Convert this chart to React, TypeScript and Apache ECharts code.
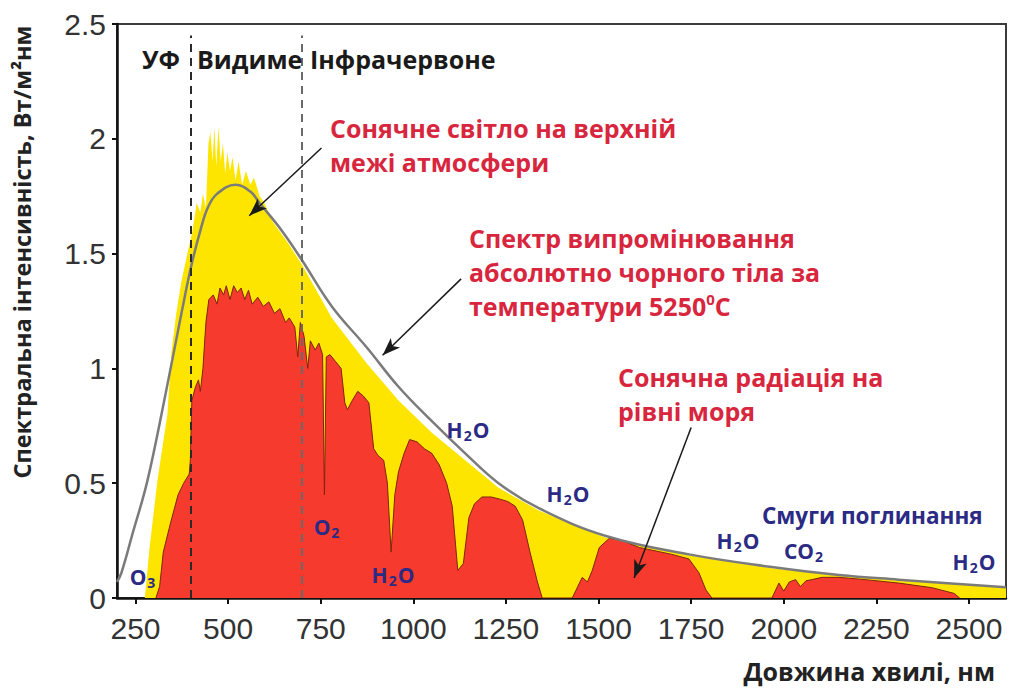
import React, { useEffect, useRef } from 'react';
import * as echarts from 'echarts';

// ---------- data (wavelength nm, spectral intensity W/m²nm) ----------
const xTicks = [250, 500, 750, 1000, 1250, 1500, 1750, 2000, 2250, 2500];

const blackbody: [number, number][] = [
  [200, 0.07], [212, 0.11], [242, 0.28], [282, 0.51], [330, 0.88], [374, 1.24],
  [401, 1.45], [425, 1.6], [445, 1.7], [470, 1.76], [520, 1.8], [560, 1.77],
  [585, 1.72], [645, 1.6], [700, 1.47], [780, 1.27], [875, 1.09], [960, 0.92],
  [1050, 0.77], [1140, 0.63], [1230, 0.5], [1340, 0.39], [1520, 0.27],
  [1744, 0.19], [1968, 0.135], [2149, 0.1], [2310, 0.08], [2600, 0.047],
];

const topOfAtmosphere: [number, number][] = [
  [275, 0], [288, 0.22], [309, 0.51], [336, 0.8], [347, 1.07], [360, 1.24],
  [374, 1.38], [390, 1.5], [404, 1.6], [415, 1.72], [425, 1.68], [432, 1.76],
  [440, 1.7], [447, 1.98], [452, 2.03], [458, 1.9], [463, 2.05], [468, 1.88],
  [474, 2.05], [480, 1.9], [486, 1.98], [492, 1.85], [498, 1.94], [505, 1.86],
  [512, 1.92], [520, 1.82], [528, 1.9], [538, 1.8], [548, 1.86], [560, 1.8],
  [570, 1.83], [585, 1.75], [598, 1.72], [620, 1.64], [660, 1.55], [700, 1.45],
  [780, 1.22], [875, 1.02], [960, 0.86], [1050, 0.72], [1140, 0.6], [1230, 0.48],
  [1340, 0.38], [1520, 0.262], [1744, 0.185], [1968, 0.13], [2149, 0.097],
  [2310, 0.077], [2500, 0.058], [2600, 0.045],
];

const seaLevel: [number, number][] = [
  [305, 0], [315, 0.05], [325, 0.2], [345, 0.33], [365, 0.45], [380, 0.5],
  [395, 0.54], [398, 0.6], [402, 0.86], [412, 0.92], [420, 0.95], [425, 0.9],
  [432, 1.0], [440, 1.2], [448, 1.3], [460, 1.32], [470, 1.28], [478, 1.35],
  [488, 1.32], [495, 1.36], [505, 1.3], [515, 1.36], [525, 1.33], [535, 1.35],
  [545, 1.3], [555, 1.34], [565, 1.28], [580, 1.31], [595, 1.27], [610, 1.29],
  [625, 1.24], [640, 1.26], [655, 1.2], [665, 1.22], [680, 1.18], [688, 1.05],
  [695, 1.2], [705, 1.14], [715, 1.0], [722, 1.12], [735, 1.08], [745, 1.11],
  [755, 1.06], [760, 0.45], [765, 1.05], [775, 1.06], [790, 1.03], [805, 1.0],
  [815, 0.85], [822, 0.82], [835, 0.86], [850, 0.9], [865, 0.88], [880, 0.85],
  [893, 0.65], [905, 0.62], [920, 0.6], [930, 0.5], [940, 0.2], [950, 0.45],
  [960, 0.55], [975, 0.63], [990, 0.69], [1010, 0.68], [1030, 0.65], [1050, 0.63],
  [1070, 0.58], [1090, 0.5], [1105, 0.4], [1120, 0.12], [1135, 0.15], [1150, 0.35],
  [1165, 0.41], [1185, 0.44], [1210, 0.44], [1235, 0.43], [1255, 0.42], [1275, 0.4],
  [1295, 0.34], [1315, 0.2], [1335, 0.07], [1348, 0], [1429, 0], [1456, 0.09],
  [1470, 0.07], [1483, 0.12], [1502, 0.22], [1529, 0.26], [1564, 0.25], [1610, 0.22],
  [1698, 0.19], [1744, 0.17], [1771, 0.11], [1790, 0.035], [1806, 0], [1968, 0],
  [1987, 0.065], [2000, 0.03], [2015, 0.07], [2032, 0.08], [2045, 0.05], [2060, 0.075],
  [2076, 0.08], [2103, 0.09], [2149, 0.09], [2220, 0.08], [2310, 0.065], [2400, 0.045],
  [2460, 0.02], [2475, 0],
];

const regionBounds = [400, 700];
const regionTop = 2.45;

// arrows in data coordinates: [fromX, fromY, toX, toY]
const arrows: [number, number, number, number][] = [
  [752, 1.96, 557, 1.665],
  [1129, 1.39, 917, 1.057],
  [1750, 0.743, 1596, 0.087],
];

// ---------- styles ----------
const RED_TEXT = '#d7263d';
const BLUE = '#2b2a84';
const BOLD = 'Open Sans';

const chemLabels: { t: string; x: number; y: number }[] = [
  { t: '{n|O}{s|3}', x: 143, y: 577 },
  { t: '{n|O}{s|2}', x: 327, y: 527 },
  { t: '{n|H}{s|2}{n|O}', x: 393, y: 575 },
  { t: '{n|H}{s|2}{n|O}', x: 468, y: 430 },
  { t: '{n|H}{s|2}{n|O}', x: 568, y: 494 },
  { t: '{n|H}{s|2}{n|O}', x: 738, y: 541 },
  { t: '{n|C}{n|O}{s|2}', x: 804, y: 551 },
  { t: '{n|H}{s|2}{n|O}', x: 974, y: 562 },
];

const chemRich = {
  n: { fontSize: 21, fontWeight: 'bold', fontFamily: BOLD, fill: BLUE, verticalAlign: 'middle' },
  s: { fontSize: 14, fontWeight: 'bold', fontFamily: BOLD, fill: BLUE, padding: [10, 1, 0, 1], verticalAlign: 'middle' },
};

export default function App() {
  const ref = useRef<HTMLDivElement>(null);

  useEffect(() => {
    if (!ref.current) return;
    const chart = echarts.init(ref.current, undefined, { renderer: 'svg' });

    const redStyle = { fontSize: 25, fontWeight: 'bold', fontFamily: BOLD, fill: RED_TEXT, lineHeight: 34 };
    const blackStyle = { fontSize: 25, fontWeight: 'bold', fontFamily: BOLD, fill: '#1a1a1a' };

    const graphic: any[] = [
      {
        type: 'text', x: 22, y: 252, rotation: Math.PI / 2, z: 100,
        style: {
          text: 'Спектральна інтенсивність, Вт/м²нм', fontSize: 23.5, fontWeight: 'bold', fontFamily: BOLD,
          fill: '#222', align: 'center', verticalAlign: 'middle',
        },
      },
      {
        type: 'text', x: 995, y: 671, z: 100,
        style: {
          text: 'Довжина хвилі, нм', fontSize: 25, fontWeight: 'bold', fontFamily: BOLD,
          fill: '#222', align: 'right', verticalAlign: 'middle',
        },
      },
      { type: 'text', x: 142, y: 59, z: 100, style: { ...blackStyle, text: 'УФ', verticalAlign: 'middle' } },
      { type: 'text', x: 197, y: 59, z: 100, style: { ...blackStyle, text: 'Видиме', verticalAlign: 'middle' } },
      { type: 'text', x: 310, y: 59, z: 100, style: { ...blackStyle, text: 'Інфрачервоне', verticalAlign: 'middle' } },
      {
        type: 'text', x: 330, y: 111, z: 100,
        style: { ...redStyle, text: 'Сонячне світло на верхній\nмежі атмосфери', verticalAlign: 'top' },
      },
      {
        type: 'text', x: 469, y: 221, z: 100,
        style: {
          text: '{r|Спектр випромінювання}\n{r|абсолютно чорного тіла за}\n{r|температури 5250}{p|0}{r|С}',
          verticalAlign: 'top',
          rich: {
            r: { fontSize: 25, fontWeight: 'bold', fontFamily: BOLD, fill: RED_TEXT, lineHeight: 34, verticalAlign: 'middle' },
            p: { fontSize: 15, fontWeight: 'bold', fontFamily: BOLD, fill: RED_TEXT, padding: [0, 0, 14, 0], verticalAlign: 'middle' },
          },
        },
      },
      {
        type: 'text', x: 618, y: 360, z: 100,
        style: { ...redStyle, text: 'Сонячна радіація на\nрівні моря', verticalAlign: 'top' },
      },
      {
        type: 'text', x: 762, y: 515, z: 100,
        style: {
          text: 'Смуги поглинання', fontSize: 22.5, fontWeight: 'bold', fontFamily: BOLD,
          fill: BLUE, verticalAlign: 'middle',
        },
      },
      ...chemLabels.map((c) => ({
        type: 'text', x: c.x, y: c.y, z: 100,
        style: { text: c.t, rich: chemRich, align: 'center', verticalAlign: 'middle' },
      })),
    ];

    const option: any = {
      animation: false,
      backgroundColor: '#ffffff',
      grid: {
        left: 117, right: 3, top: 24, bottom: 93,
        show: true, borderColor: '#3a3a3a', borderWidth: 2, backgroundColor: 'transparent',
      },
      xAxis: {
        type: 'value', min: 200, max: 2600,
        axisLine: { show: true, onZero: false, lineStyle: { color: '#111', width: 2.5 } },
        axisTick: { show: true, customValues: xTicks, length: 6, lineStyle: { color: '#111', width: 2 } },
        axisLabel: {
          customValues: xTicks, margin: 15, fontSize: 30, color: '#333', fontFamily: 'Liberation Sans',
          formatter: (v: number) => String(v),
        },
        splitLine: { show: false },
      },
      yAxis: {
        type: 'value', min: 0, max: 2.5, interval: 0.5,
        axisLine: { show: true, lineStyle: { color: '#111', width: 2.5 } },
        axisTick: { show: true, length: 5, lineStyle: { color: '#111', width: 2 } },
        axisLabel: {
          margin: 11, fontSize: 30, color: '#333', fontFamily: 'Liberation Sans',
          formatter: (v: number) => String(v),
        },
        splitLine: { show: false },
      },
      series: [
        {
          name: 'top', type: 'line', data: topOfAtmosphere, symbol: 'none', z: 2,
          lineStyle: { width: 0 }, areaStyle: { color: '#fde500', opacity: 1 },
          silent: true,
        },
        {
          name: 'sea', type: 'line', data: seaLevel, symbol: 'none', z: 3,
          lineStyle: { color: '#7d2410', width: 1 }, areaStyle: { color: '#f73a2e', opacity: 1 },
          silent: true,
          markLine: {
            silent: true, symbol: 'none', animation: false,
            label: { show: false },
            data: regionBounds.map((b, i) => [
              { coord: [b, 0], lineStyle: { color: i === 0 ? '#2a2a2a' : '#6a6a6a', width: 2, type: [8, 6] } },
              { coord: [b, regionTop] },
            ]),
          },
        },
        {
          name: 'bb', type: 'line', data: blackbody, symbol: 'none', smooth: 0.4, z: 4,
          lineStyle: { color: '#7b7b7b', width: 2.5 },
          silent: true,
          markLine: {
            silent: true, symbol: ['none', 'arrow'], symbolSize: [10, 18], animation: false,
            label: { show: false },
            lineStyle: { color: '#1a1a1a', width: 1.5, type: 'solid' },
            data: arrows.map((a) => [{ coord: [a[0], a[1]] }, { coord: [a[2], a[3]] }]),
          },
        },
      ],
      graphic,
    };

    chart.setOption(option);
    return () => chart.dispose();
  }, []);

  return (
    <div
      ref={ref}
      style={{ position: 'fixed', left: 0, top: 0, width: 1009, height: 691, background: '#fff' }}
    />
  );
}
